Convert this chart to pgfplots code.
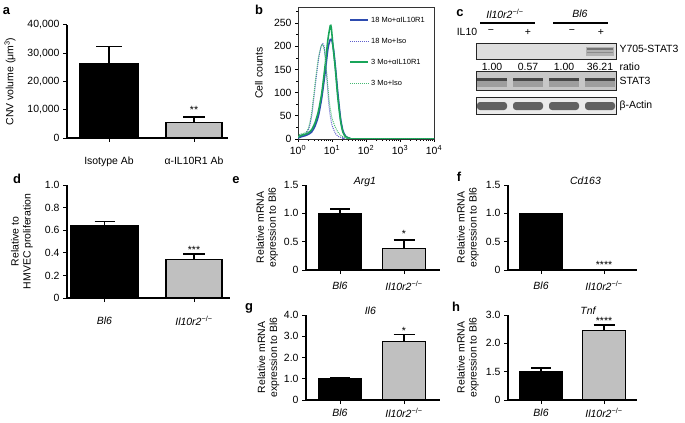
\documentclass[border=0pt]{standalone}
\usepackage{pgfplots}
\pgfplotsset{compat=1.18}
\usepackage{fontspec}
\setmainfont{Liberation Sans}
\definecolor{barg}{RGB}{192,192,192}
\definecolor{bsolid}{RGB}{45,75,175}
\definecolor{bdot}{RGB}{95,95,205}
\definecolor{gsolid}{RGB}{25,165,90}
\definecolor{gdot}{RGB}{70,185,115}
\newcommand{\ko}{\textit{Il10r2}\textsuperscript{−/−}}
\newcommand{\wt}{\textit{Bl6}}
\newcommand{\fs}{\fontsize{10.5}{12}\selectfont}
\pgfplotsset{
  barax/.style={
    scale only axis, anchor=south west, clip=false,
    axis lines=left, axis line style={-, line width=1.1pt},
    xmin=0, ymin=0, scaled y ticks=false,
    tick align=outside, major tick length=4bp,
    every tick/.style={black, line width=1pt},
    /pgf/number format/assume math mode=true,
    tick label style={font=\fs},
    label style={font=\fs},
    ylabel style={anchor=center, align=center},
  },
  bk/.style={ybar, bar shift=0pt, fill=black, draw=black, line width=1.1pt},
  gy/.style={ybar, bar shift=0pt, fill=barg, draw=black, line width=1.1pt},
  eb/.style={error bars/.cd, y dir=plus, y explicit,
    error bar style={line width=1.2pt,black},
    error mark options={rotate=90, mark size=#1, line width=1.2pt, black}},
}
\begin{document}
\begin{tikzpicture}[x=1bp,y=1bp]
\useasboundingbox (0,0) rectangle (685,422);

% ---------------- panel a
\begin{axis}[barax, at={(67bp,284bp)}, width=161bp, height=113bp,
  xmax=161, ymax=40000,
  ytick={0,10000,20000,30000,40000}, yticklabels={0,{10,000},{20,000},{30,000},{40,000}},
  xtick={42,127}, xticklabels={Isotype Ab, α-IL10R1 Ab},
  xticklabel style={yshift=-11bp},
  ylabel={CNV volume (μm\textsuperscript{3})},
  ylabel style={at={(axis description cs:-0.354,0.5)}}]
\addplot[bk, bar width=58, eb=13bp] coordinates {(42,26250) +- (0,6100)};
\addplot[gy, bar width=56, eb=11bp] coordinates {(127,5550) +- (0,1900)};
\node[font=\fs] at (axis cs:127,10000) {**};
\end{axis}

% ---------------- panel b
\begin{axis}[scale only axis, anchor=south west, at={(298bp,283bp)}, width=136bp, height=132bp,
  xmode=log, xmin=1, xmax=10000, ymin=0, ymax=285,
  axis line style={black!80, line width=0.8pt},
  xtick={1,10,100,1000,10000},
  xticklabels={10\textsuperscript{0},10\textsuperscript{1},10\textsuperscript{2},10\textsuperscript{3},10\textsuperscript{4}},
  minor xtick={2,3,4,5,6,7,8,9,20,30,40,50,60,70,80,90,200,300,400,500,600,700,800,900,2000,3000,4000,5000,6000,7000,8000,9000},
  ytick={0,50,100,150,200,250}, minor ytick={25,75,125,175,225,275},
  tick align=outside, xtick pos=bottom, ytick pos=left,
  major tick length=3bp, minor tick length=2bp,
  every tick/.style={black, line width=0.7pt},
  /pgf/number format/assume math mode=true,
  tick label style={font=\fs}, label style={font=\fs},
  ylabel={Cell counts},
  ylabel style={at={(axis description cs:-0.287,0.5)}, anchor=center},
  ]
\addplot[bsolid, line width=1.6pt, smooth, tension=0.4] coordinates {
(1,2)(1.259,5)(1.585,7)(1.995,10)(2.512,15)(3.162,28)(3.981,50)(5.012,90)(6.310,145)(7.586,195)(8.913,215)(10,212)(11.22,190)(12.59,155)(14.79,100)(17.78,45)(20.89,18)(25.12,6)(31.62,2)(44.67,0)(10000,0)};
\addplot[bdot, line width=1pt, densely dotted, smooth, tension=0.4] coordinates {
(1,3)(1.122,8)(1.259,9)(1.585,10)(1.995,18)(2.512,48)(3.162,110)(3.981,170)(4.786,200)(5.370,206)(6.026,195)(6.918,140)(7.943,80)(8.913,50)(10,30)(12.59,12)(15.85,5)(22.39,2)(31.62,0)(10000,0)};
\addplot[gsolid, line width=1.6pt, smooth, tension=0.4] coordinates {
(1,4)(1.259,8)(1.585,10)(1.995,13)(2.512,20)(3.162,35)(3.981,60)(5.012,100)(6.310,160)(7.586,215)(8.913,245)(9.550,240)(10.72,200)(12.59,150)(14.79,90)(17.78,40)(20.89,15)(25.12,5)(31.62,2)(44.67,0)(10000,0)};
\addplot[gdot, line width=1pt, densely dotted, smooth, tension=0.4] coordinates {
(1,5)(1.122,10)(1.259,11)(1.585,13)(1.995,22)(2.512,55)(3.162,118)(3.981,175)(4.786,200)(5.248,204)(6.026,190)(6.918,145)(7.943,95)(8.913,65)(10,45)(12.59,25)(15.85,12)(19.95,6)(28.18,2)(39.81,0)(10000,0)};
\end{axis}
% legend of b
\begin{scope}[every node/.style={font=\fontsize{7.5}{9}\selectfont, anchor=west, inner sep=0pt}]
\draw[bsolid, line width=1.8pt] (350,402) -- (368,402); \node at (371,402) {18 Mo+αIL10R1};
\draw[bdot, line width=1pt, densely dotted] (350,381) -- (368,381); \node at (371,381) {18 Mo+Iso};
\draw[gsolid, line width=1.8pt] (350,360) -- (368,360); \node at (371,360) {3 Mo+αIL10R1};
\draw[gdot, line width=1pt, densely dotted] (350,339) -- (368,339); \node at (371,339) {3 Mo+Iso};
\end{scope}

% ---------------- panel d
\begin{axis}[barax, at={(67bp,124bp)}, width=163bp, height=113bp,
  xmax=163, ymax=1.0,
  ytick={0,0.2,0.4,0.6,0.8,1.0}, yticklabels={0,0.2,0.4,0.6,0.8,1.0},
  xtick={37.5,127}, xticklabels={\wt, \ko},
  xticklabel style={yshift=-11bp},
  ylabel={Relative to\\HMVEC proliferation},
  ylabel style={at={(axis description cs:-0.276,0.5)}}]
\addplot[bk, bar width=67, eb=10bp] coordinates {(37.5,0.638) +- (0,0.038)};
\addplot[gy, bar width=56, eb=11bp] coordinates {(127,0.344) +- (0,0.046)};
\node[font=\fs] at (axis cs:127,0.425) {***};
\end{axis}

% ---------------- panel e
\begin{axis}[barax, at={(306bp,152bp)}, width=134bp, height=85bp,
  xmax=134, ymax=1.5,
  ytick={0,0.5,1.0,1.5}, yticklabels={0,0.5,1.0,1.5},
  xtick={34,98}, xticklabels={\wt, \ko},
  xticklabel style={yshift=-4bp},
  ylabel={Relative mRNA\\expression to Bl6},
  ylabel style={at={(axis description cs:-0.29,0.5)}}]
\addplot[bk, bar width=43, eb=10bp] coordinates {(34,1.0) +- (0,0.076)};
\addplot[gy, bar width=43, eb=10.5bp] coordinates {(98,0.382) +- (0,0.148)};
\node[font=\fs] at (axis cs:98,0.64) {*};
\node[font=\fs\itshape, anchor=base] at (rel axis cs:0.44,1) [yshift=1bp] {Arg1};
\end{axis}

% ---------------- panel f
\begin{axis}[barax, at={(508bp,152bp)}, width=129bp, height=85bp,
  xmax=129, ymax=1.5,
  ytick={0,0.5,1.0,1.5}, yticklabels={0,0.5,1.0,1.5},
  xtick={33,96}, xticklabels={\wt, \ko},
  xticklabel style={yshift=-4bp},
  ylabel={Relative mRNA\\expression to Bl6},
  ylabel style={at={(axis description cs:-0.31,0.5)}}]
\addplot[bk, bar width=43] coordinates {(33,1.0)};
\addplot[gy, bar width=43] coordinates {(96,0.012)};
\node[font=\fs] at (axis cs:96,0.09) {****};
\node[font=\fs\itshape, anchor=base] at (rel axis cs:0.6,1) [yshift=1bp] {Cd163};
\end{axis}

% ---------------- panel g
\begin{axis}[barax, at={(306bp,22bp)}, width=134bp, height=85bp,
  xmax=134, ymax=4,
  ytick={0,1,2,3,4}, yticklabels={0,1.0,2.0,3.0,4.0},
  xtick={34,98}, xticklabels={\wt, \ko},
  xticklabel style={yshift=-1bp},
  ylabel={Relative mRNA\\expression to Bl6},
  ylabel style={at={(axis description cs:-0.28,0.5)}}]
\addplot[bk, bar width=43, eb=10bp] coordinates {(34,1.0) +- (0,0.07)};
\addplot[gy, bar width=43, eb=10.5bp] coordinates {(98,2.74) +- (0,0.34)};
\node[font=\fs] at (axis cs:98,3.27) {*};
\node[font=\fs\itshape, anchor=base] at (rel axis cs:0.48,1) [yshift=1bp] {Il6};
\end{axis}

% ---------------- panel h
\begin{axis}[barax, at={(508bp,22bp)}, width=129bp, height=85bp,
  xmax=129, ymax=3,
  ytick={0,1,2,3}, yticklabels={0,1.5,2.0,3.0},
  xtick={33,96}, xticklabels={\wt, \ko},
  xticklabel style={yshift=-1bp},
  ylabel={Relative mRNA\\expression to Bl6},
  ylabel style={at={(axis description cs:-0.31,0.5)}}]
\addplot[bk, bar width=43, eb=10bp] coordinates {(33,1.0) +- (0,0.13)};
\addplot[gy, bar width=43, eb=10.5bp] coordinates {(96,2.45) +- (0,0.2)};
\node[font=\fs] at (axis cs:96,2.8) {****};
\node[font=\fs\itshape, anchor=base] at (rel axis cs:0.62,1) [yshift=1bp] {Tnf};
\end{axis}

% ---------------- panel c (blot)
\node[font=\fs] at (505,408) {\ko};
\node[font=\fs] at (580,408) {\wt};
\draw[line width=1.2pt] (480,399) -- (535,399);
\draw[line width=1.2pt] (553,399) -- (608,399);
\node[font=\fs] at (467,390) {IL10};
\node[font=\fs] at (491,390) {−};
\node[font=\fs] at (528,390) {+};
\node[font=\fs] at (572,390) {−};
\node[font=\fs] at (601,390) {+};
% box 1
\filldraw[fill=black!13, draw=black!85, line width=0.8pt] (476,363) rectangle (616,379);
\fill[black!30] (586,366.5) rectangle (614,375.5);
\draw[black!55, line width=1.2pt] (587,373) -- (613,373);
\draw[black!45, line width=0.9pt] (587,369.5) -- (613,369.5);
% box 2
\filldraw[fill=black!22, draw=black!85, line width=0.8pt] (476,332) rectangle (616,351);
\foreach \c in {492,528,564,600}{
  \fill[black!38] (\c-15,335) rectangle (\c+15,344);
  \fill[black!72] (\c-15,341.5) rectangle (\c+15,344.5);
}
% box 3
\filldraw[fill=black!8, draw=black!85, line width=0.8pt] (476,308) rectangle (616,325);
\foreach \c in {492,528,564,600}{
  \fill[black!62, rounded corners=3bp] (\c-15,312) rectangle (\c+15,320);
}
\foreach \c/\t in {492/1.00,528/0.57,564/1.00,600/36.21}{
  \node[font=\fs] at (\c,355.5) {\t};
}
\node[font=\fs, anchor=west] at (616,373) {Y705-STAT3};
\node[font=\fs, anchor=west] at (616,355.5) {ratio};
\node[font=\fs, anchor=west] at (616,341) {STAT3};
\node[font=\fs, anchor=west] at (616,316) {β-Actin};

% ---------------- panel letters
\begin{scope}[every node/.style={font=\fontsize{13}{14}\selectfont\bfseries}]
\node at (6.5,410.5) {a};
\node at (259,412) {b};
\node at (460,409) {c};
\node at (17,243) {d};
\node at (236,242) {e};
\node at (459,245) {f};
\node at (249,114) {g};
\node at (456,115) {h};
\end{scope}
\end{tikzpicture}
\end{document}
